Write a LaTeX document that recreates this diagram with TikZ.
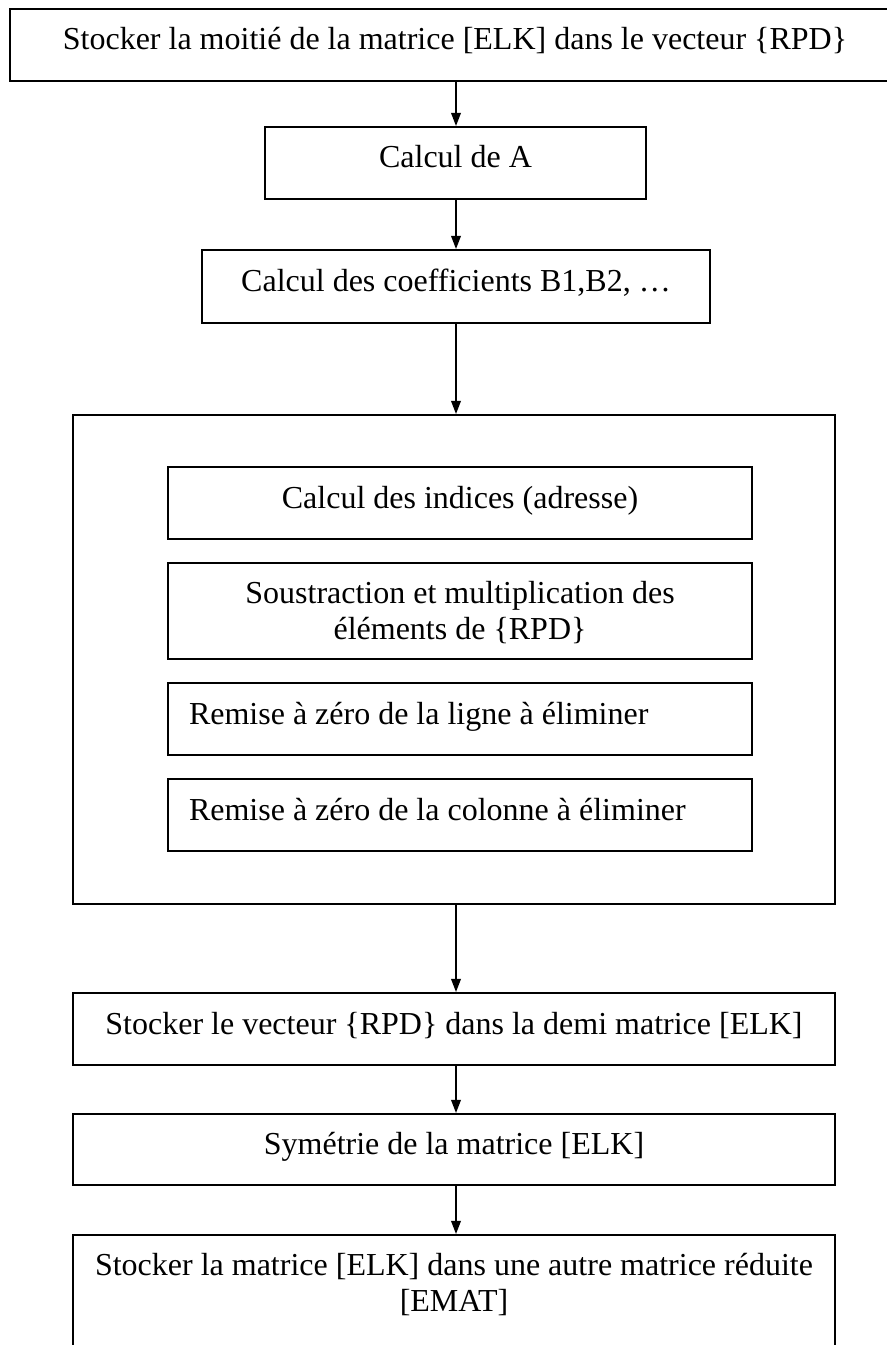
\documentclass[tikz,border=0pt]{standalone}
\usepackage{fontspec}
\setmainfont{Liberation Serif}
\usetikzlibrary{arrows.meta}

\begin{document}
\begin{tikzpicture}[
  x=0.375pt, y=-0.375pt,
  font=\fontsize{12pt}{13.5pt}\selectfont,
  % a process box: width and height in pt, anchored at its top centre
  stage/.style 2 args={draw=black, line width=0.75pt, rectangle, anchor=north,
    inner xsep=0pt, inner ysep=0pt,
    minimum width=#1, text width=#1, minimum height=#2,
    align=flush center, text height=7.5pt, text depth=3.75pt},
  % same box, text set flush left with a small margin
  leftstage/.style={stage={219pt}{27pt}, inner xsep=7.875pt, text width=203.25pt, align=flush left},
  % two-line box: first baseline kept near the top
  twoline/.style={text height=8pt, text depth=14pt},
  flow/.style={line width=0.6pt, -{Triangle[length=4.9pt,width=3.6pt]}}
]
\useasboundingbox (0,0) rectangle (886,1345);

% main column axis of the arrows
\coordinate (axis) at (456,0);

\node[stage={333.75pt}{27pt}] (store) at (455,8)
  {Stocker la moitié de la matrice [ELK] dans le vecteur \{RPD\}};
\node[stage={142.875pt}{27pt}] (calcA) at (455.5,126) {Calcul de A};
\node[stage={190.5pt}{27.375pt}] (coef) at (456,249) {Calcul des coefficients B1,B2, …};

% elimination loop
\node[stage={285.75pt}{183.375pt}] (loop) at (454,414) {};
\node[stage={219pt}{27pt}] (idx) at (460,466) {Calcul des indices (adresse)};
\node[stage={219pt}{36pt}, twoline] (sub) at (460,562)
  {Soustraction et multiplication des\\éléments de \{RPD\}};
\node[leftstage] (row) at (460,682) {Remise à zéro de la ligne à éliminer};
\node[leftstage] (col) at (460,778) {Remise à zéro de la colonne à éliminer};

\node[stage={285.75pt}{27pt}] (back) at (454,992)
  {Stocker le vecteur \{RPD\} dans la demi matrice [ELK]};
\node[stage={285.75pt}{26.625pt}] (sym) at (454,1113) {Symétrie de la matrice [ELK]};
\node[stage={285.75pt}{51pt}, text height=8pt, text depth=29pt] (emat) at (454,1234)
  {Stocker la matrice [ELK] dans une autre matrice réduite\\{[EMAT]}};

\draw[flow] (store.south -| axis) -- (calcA.north -| axis);
\draw[flow] (calcA.south -| axis) -- (coef.north -| axis);
\draw[flow] (coef.south -| axis) -- (loop.north -| axis);
\draw[flow] (loop.south -| axis) -- (back.north -| axis);
\draw[flow] (back.south -| axis) -- (sym.north -| axis);
\draw[flow] (sym.south -| axis) -- (emat.north -| axis);
\end{tikzpicture}
\end{document}
